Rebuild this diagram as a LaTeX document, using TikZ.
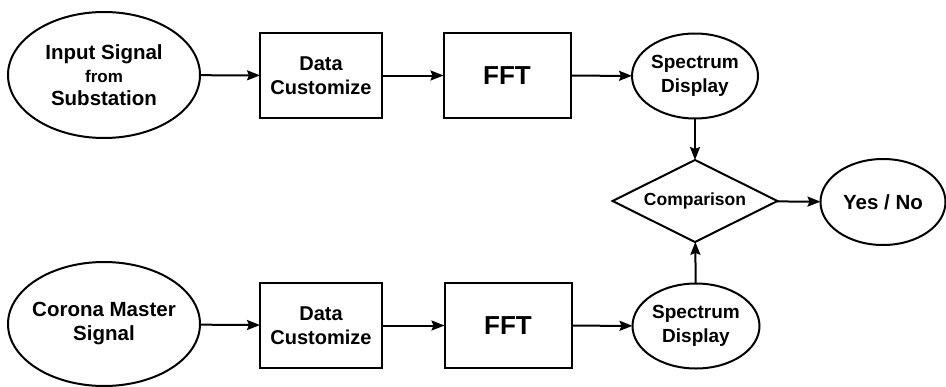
\documentclass[tikz,border=0pt]{standalone}
\usepackage{fontspec}
\setmainfont{Liberation Sans}
\usetikzlibrary{shapes.geometric,arrows.meta}
\begin{document}
\begin{tikzpicture}[x=1pt,y=-1pt,
  every node/.style={inner sep=0pt, outer sep=0pt, align=center, font=\bfseries\fontsize{20}{24}\selectfont},
  ell/.style={draw, ellipse, line width=2pt},
  box/.style={draw, rectangle, line width=2pt, minimum width=122pt, minimum height=85pt},
  fftbox/.style={draw, rectangle, line width=2pt, minimum width=127pt, minimum height=85pt, font=\bfseries\fontsize{26}{30}\selectfont},
  dia/.style={draw, diamond, aspect=2, line width=2pt, minimum width=165pt, minimum height=82pt, font=\bfseries\fontsize{17.5}{20}\selectfont},
  arr/.style={-{Stealth[length=13pt,width=10pt,inset=2pt]}, line width=2pt}
]
\useasboundingbox (0,0) rectangle (946,386);
\fill[white] (0,0) rectangle (946,386);

\node[ell, minimum width=192pt, minimum height=126pt, font=\bfseries\fontsize{20.5}{23}\selectfont] (in1) at (104,75) {Input Signal\\{\fontsize{17}{20}\selectfont from}\\Substation};
\node[box] (dc1) at (321,75.5) {Data\\Customize};
\node[fftbox] (fft1) at (507,75.5) {FFT};
\node[ell, minimum width=126pt, minimum height=85pt, font=\bfseries\fontsize{19}{24}\selectfont] (sp1) at (695,76) {Spectrum\\Display};

\node[dia] (cmp) at (695,201) {Comparison};
\node[ell, minimum width=125pt, minimum height=86pt, font=\bfseries\fontsize{20.5}{24}\selectfont] (yn) at (883,202) {Yes / No};

\node[ell, inner xsep=-12pt, minimum width=192pt, minimum height=124pt, font=\bfseries\fontsize{20.5}{24}\selectfont] (in2) at (104,324) {Corona Master\\Signal};
\node[box] (dc2) at (321,325.5) {Data\\Customize};
\node[fftbox] (fft2) at (508,325.5) {FFT};
\node[ell, minimum width=127pt, minimum height=85pt, font=\bfseries\fontsize{19}{24}\selectfont] (sp2) at (696,326) {Spectrum\\Display};

\draw[arr] (in1) -- (dc1);
\draw[arr] (dc1) -- (fft1);
\draw[arr] (fft1) -- (sp1);
\draw[arr] (sp1) -- (cmp);
\draw[arr] (cmp) -- (yn);
\draw[arr] (in2) -- (dc2);
\draw[arr] (dc2) -- (fft2);
\draw[arr] (fft2) -- (sp2);
\draw[arr] (sp2) -- (cmp);
\end{tikzpicture}
\end{document}
